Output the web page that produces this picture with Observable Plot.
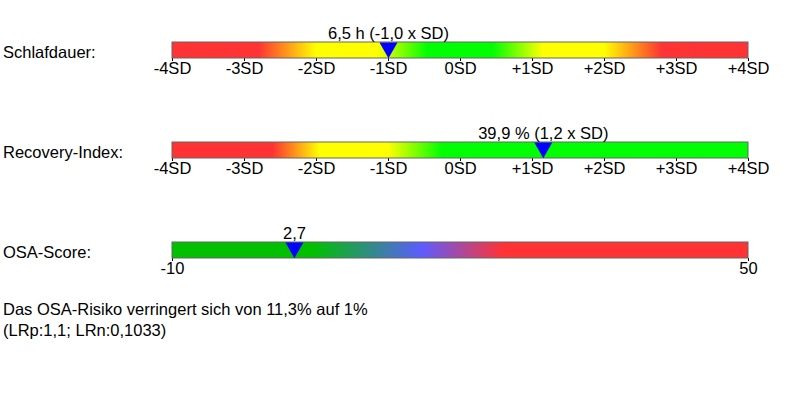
<!DOCTYPE html>
<html>
<head>
<meta charset="utf-8">
<script src="https://cdn.jsdelivr.net/npm/d3@7"></script>
<script src="https://cdn.jsdelivr.net/npm/@observablehq/plot@0.6"></script>
<style>
  html, body { margin: 0; padding: 0; background: #fff; }
  #chart { position: relative; width: 800px; height: 400px; font-family: "Liberation Sans", Arial, sans-serif; font-size: 16.5px; color: #000; }
  .row { position: absolute; left: 0; }
  .lbl { position: absolute; left: 3px; line-height: 16px; white-space: nowrap; }
  .note { position: absolute; left: 3px; top: 299px; line-height: 21px; white-space: nowrap; }
</style>
</head>
<body>
<div id="chart"></div>
<script>
// ---- data ----
const rowLabels = ["Schlafdauer:", "Recovery-Index:", "OSA-Score:"];

const sdTicks = [-4, -3, -2, -1, 0, 1, 2, 3, 4];
const sdDomain = [-4, 4];

const sleepValue = -1.0;
const sleepLabel = "6,5 h (-1,0 x SD)";
const sleepStops = [-4, -2.8, -2.0, -1.15, -0.45, 0.45, 1.15, 2.0, 2.8, 4];
const sleepColors = ["#ff3333", "#ff3333", "#ffff00", "#ffff00", "#00ff00", "#00ff00", "#ffff00", "#ffff00", "#ff3333", "#ff3333"];

const recoveryValue = 1.15;
const recoveryLabel = "39,9 % (1,2 x SD)";
const recoveryStops = [-4, -2.6, -1.95, -1.0, -0.25, 4];
const recoveryColors = ["#ff3333", "#ff3333", "#ffff00", "#ffff00", "#00ff00", "#00ff00"];

const osaDomain = [-10, 50];
const osaTicks = [-10, 50];
const osaValue = 2.7;
const osaLabel = "2,7";
const osaStops = [-10, 4.7, 16, 24.5, 50];
const osaColors = ["#00c000", "#00c000", "#5c5cff", "#ff3333", "#ff3333"];

const noteLines = ["Das OSA-Risiko verringert sich von 11,3% auf 1%", "(LRp:1,1; LRn:0,1033)"];

// ---- drawing ----
const sdFormat = d => d === 0 ? "0SD" : d > 0 ? `+${d}SD` : `${d}SD`;

// downward triangle whose base sits on the anchor point
const triangleDown = {
  draw(context, size) {
    const w = Math.sqrt(size * 4 / Math.sqrt(3));
    const h = w * Math.sqrt(3) / 2;
    context.moveTo(0, h);
    context.lineTo(-w / 2, 0);
    context.lineTo(w / 2, 0);
    context.closePath();
  }
};

function gauge({id, domain, ticks, tickFormat, stops, colors, value, label}) {
  const svg = Plot.plot({
    width: 800,
    height: 80,
    marginLeft: 172,
    marginRight: 52,
    marginTop: 42,
    marginBottom: 22,
    style: {fontFamily: '"Liberation Sans", Arial, sans-serif', fontSize: "16.5px", background: "transparent", overflow: "visible", color: "#000"},
    x: {domain, ticks, tickFormat, tickSize: 3, tickPadding: 1, label: null},
    y: {domain: [0, 1], axis: null},
    marks: [
      Plot.rect([{lo: domain[0], hi: domain[1]}], {x1: d => d.lo, x2: d => d.hi, y1: 0, y2: 1, fill: `url(#${id})`, stroke: "#666666", strokeWidth: 1}),
      Plot.dot([value], {x: d => d, y: 1, symbol: triangleDown, r: 6.7, fill: "#0000ff", stroke: "none"}),
      Plot.text([label], {x: () => value, y: 1, text: d => d, textAnchor: "middle", lineAnchor: "bottom", dy: -4, fill: "#000", fontSize: 16.5})
    ]
  });
  const xs = svg.scale("x");
  const g = d3.select(svg).insert("defs", ":first-child")
    .append("linearGradient")
    .attr("id", id)
    .attr("gradientUnits", "userSpaceOnUse")
    .attr("x1", xs.apply(domain[0])).attr("x2", xs.apply(domain[1]))
    .attr("y1", 0).attr("y2", 0);
  stops.forEach((s, i) => {
    g.append("stop")
      .attr("offset", (s - domain[0]) / (domain[1] - domain[0]))
      .attr("stop-color", colors[i]);
  });
  return svg;
}

const chart = document.getElementById("chart");
const rows = [
  gauge({id: "gSleep", domain: sdDomain, ticks: sdTicks, tickFormat: sdFormat, stops: sleepStops, colors: sleepColors, value: sleepValue, label: sleepLabel}),
  gauge({id: "gRecovery", domain: sdDomain, ticks: sdTicks, tickFormat: sdFormat, stops: recoveryStops, colors: recoveryColors, value: recoveryValue, label: recoveryLabel}),
  gauge({id: "gOsa", domain: osaDomain, ticks: osaTicks, tickFormat: d => `${d}`, stops: osaStops, colors: osaColors, value: osaValue, label: osaLabel})
];
rows.forEach((svg, i) => {
  const wrap = document.createElement("div");
  wrap.className = "row";
  wrap.style.top = `${i * 100}px`;
  wrap.appendChild(svg);
  chart.appendChild(wrap);
  const lab = document.createElement("div");
  lab.className = "lbl";
  lab.style.top = `${44 + i * 100}px`;
  lab.textContent = rowLabels[i];
  chart.appendChild(lab);
});
const note = document.createElement("div");
note.className = "note";
note.innerHTML = noteLines.map(t => `<div>${t}</div>`).join("");
chart.appendChild(note);
</script>
</body>
</html>
